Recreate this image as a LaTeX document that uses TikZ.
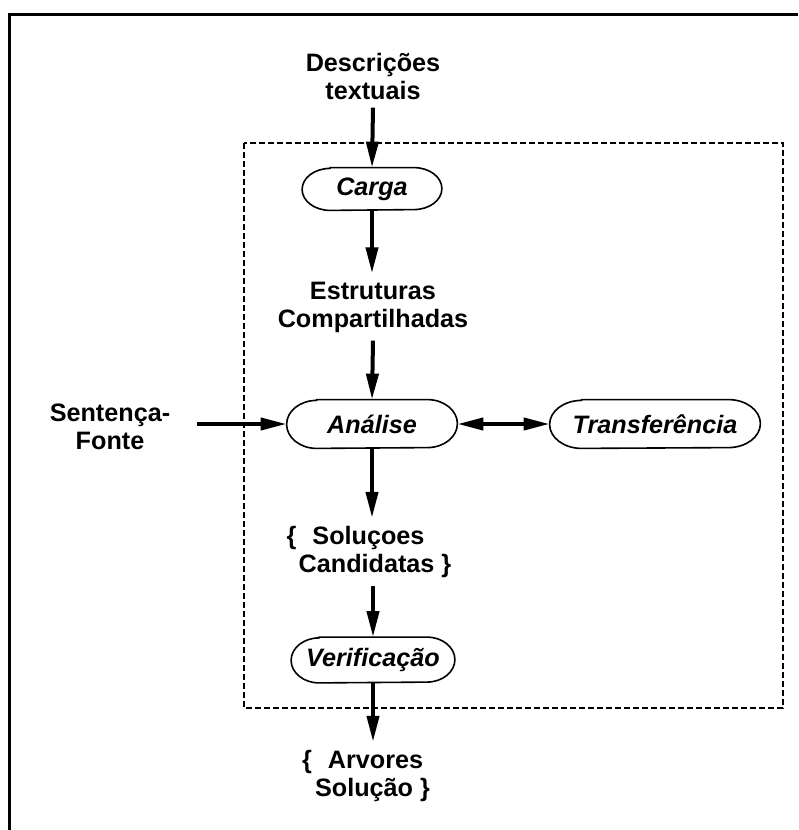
\documentclass[tikz,border=0pt]{standalone}
\usepackage{fontspec}
\setmainfont{Liberation Sans}
\usetikzlibrary{arrows.meta,calc}
\begin{document}
\begin{tikzpicture}[x=0.5pt,y=-0.5pt,
  every node/.style={font=\fontsize{12.6}{14}\selectfont\bfseries},
  lbl/.style={align=center,inner sep=4pt},
  proc/.style={inner sep=0pt,
    font=\fontsize{12.6}{14}\selectfont\bfseries\itshape},
  outline/.style={line width=0.8pt},
  arr/.style={line width=2pt,-{Triangle[length=13pt,width=6pt]}},
  darr/.style={line width=2pt,{Triangle[length=13pt,width=6pt]}-{Triangle[length=13pt,width=6pt]}},
  frame/.style={line width=1.5pt},
  region/.style={line width=0.75pt,dash pattern=on 3pt off 1.5pt}]
\useasboundingbox (0,0) rectangle (798,830);

% outer frame (top and left edges)
\draw[frame] (9.5,830) -- (9.5,14.5) -- (798,14.5);

% dashed region around the processing stages
\draw[region] (244,143) rectangle (783,708);

% stages
\node[proc,minimum width=69.5pt,minimum height=21pt] (carga) at (372,189) {Carga};
\node[proc,minimum width=85pt,minimum height=24pt] (analise) at (372,424) {Análise};
\node[proc,minimum width=105pt,minimum height=24pt] (transf) at (655,424) {Transferência};
\node[proc,minimum width=81.5pt,minimum height=22.5pt] (verif) at (373,660) {Verificação};

% stage outlines: flat top and bottom, elliptical ends
\foreach \n/\hh/\rx in {carga/10.5/14, analise/12/15, transf/12/16, verif/11.25/14} {
  \draw[outline] ([xshift=\rx pt]\n.north west) -- ([xshift=-\rx pt]\n.north east)
    arc[start angle=90,end angle=-90,x radius=\rx pt,y radius=\hh pt]
    -- ([xshift=\rx pt]\n.south west)
    arc[start angle=270,end angle=90,x radius=\rx pt,y radius=\hh pt] -- cycle;
}

% data
\node[lbl] (desc) at (373,76) {Descrições\\textuais};
\node[lbl] (estr) at (373,307) {Estruturas\\Compartilhadas};
\node[lbl,inner sep=6pt] (sent) at (110,427) {Sentença-\\Fonte};
\node[lbl,align=left] (sol) at (369,552) {\{\hspace{8pt}Soluçoes\\\hspace{6pt}Candidatas \}};
\node[lbl,align=left] (arv) at (366,776) {\{\hspace{8pt}Arvores\\\hspace{6.5pt}Solução \}};

% flow
\draw[arr] (desc.south) -- (carga.north);
\draw[arr] (carga.south) -- (carga.south |- estr.north);
\draw[arr] (estr.south) -- (analise.north);
\draw[arr] ($(analise.west -| sent.east)+(14,0)$) -- (analise.west);
\draw[darr] (analise.east) -- (transf.west);
\draw[arr] (analise.south) -- (analise.south |- sol.north);
\draw[arr] (verif.north |- sol.south) -- (verif.north);
\draw[arr] (verif.south) -- (verif.south |- arv.north);
\end{tikzpicture}
\end{document}
